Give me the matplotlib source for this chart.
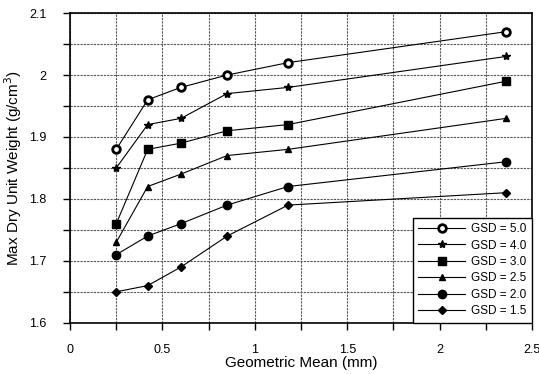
import numpy as np
import matplotlib
matplotlib.use('Agg')
import matplotlib.pyplot as plt
from matplotlib.ticker import MultipleLocator

plt.rcParams['font.family'] = ['Liberation Sans', 'DejaVu Sans']

geo_mean = [0.25, 0.42, 0.60, 0.85, 1.18, 2.36]

gsd_labels = ['GSD = 5.0', 'GSD = 4.0', 'GSD = 3.0', 'GSD = 2.5', 'GSD = 2.0', 'GSD = 1.5']
gsd50 = [1.88, 1.96, 1.98, 2.00, 2.02, 2.07]
gsd40 = [1.85, 1.92, 1.93, 1.97, 1.98, 2.03]
gsd30 = [1.76, 1.88, 1.89, 1.91, 1.92, 1.99]
gsd25 = [1.73, 1.82, 1.84, 1.87, 1.88, 1.93]
gsd20 = [1.71, 1.74, 1.76, 1.79, 1.82, 1.86]
gsd15 = [1.65, 1.66, 1.69, 1.74, 1.79, 1.81]

series = [gsd50, gsd40, gsd30, gsd25, gsd20, gsd15]
markers = ['o', '*', 's', '^', 'o', 'D']
sizes = [5.5, 6, 6, 5, 6, 4]
faces = ['white', 'black', 'black', 'black', 'black', 'black']

fig = plt.figure(figsize=(5.39, 3.74), dpi=100)
ax = fig.add_axes([0.130, 0.137, 0.857, 0.828])

for vals, lab, mk, ms, fc in zip(series, gsd_labels, markers, sizes, faces):
    ax.plot(geo_mean, vals, '-', marker=mk, markersize=ms, color='black',
            markerfacecolor=fc, markeredgecolor='black', markeredgewidth=2 if fc == 'white' else 1,
            linewidth=0.8, label=lab)

ax.set_xlim(0, 2.5)
ax.set_ylim(1.6, 2.1)
ax.xaxis.set_minor_locator(MultipleLocator(0.25))
ax.yaxis.set_minor_locator(MultipleLocator(0.05))
ax.set_xticks([0, 0.5, 1, 1.5, 2, 2.5])
ax.set_xticklabels(['0', '0.5', '1', '1.5', '2', '2.5'])
ax.set_yticks([1.6, 1.7, 1.8, 1.9, 2.0, 2.1])
ax.set_yticklabels(['1.6', '1.7', '1.8', '1.9', '2', '2.1'])
ax.tick_params(which='both', direction='out', length=5, width=1, labelsize=9)
ax.tick_params(axis='x', pad=10)
ax.tick_params(axis='y', pad=12)
ax.grid(True, which='both', color='#555555', linestyle=(0, (2, 1)), linewidth=0.8)
for s in ax.spines.values():
    s.set_linewidth(1.2)

ax.set_xlabel('Geometric Mean (mm)', fontsize=11, labelpad=0)
ax.set_ylabel('Max Dry Unit Weight (g/cm$^3$)', fontsize=11, labelpad=4)

leg = ax.legend(loc='lower right', borderaxespad=0, fancybox=False, edgecolor='black',
                framealpha=1, handlelength=4.0, labelspacing=0.38, borderpad=0.45,
                handletextpad=0.5, prop={'size': 8.5})
leg.get_frame().set_linewidth(1.0)

fig.savefig('out.png', dpi=100)
